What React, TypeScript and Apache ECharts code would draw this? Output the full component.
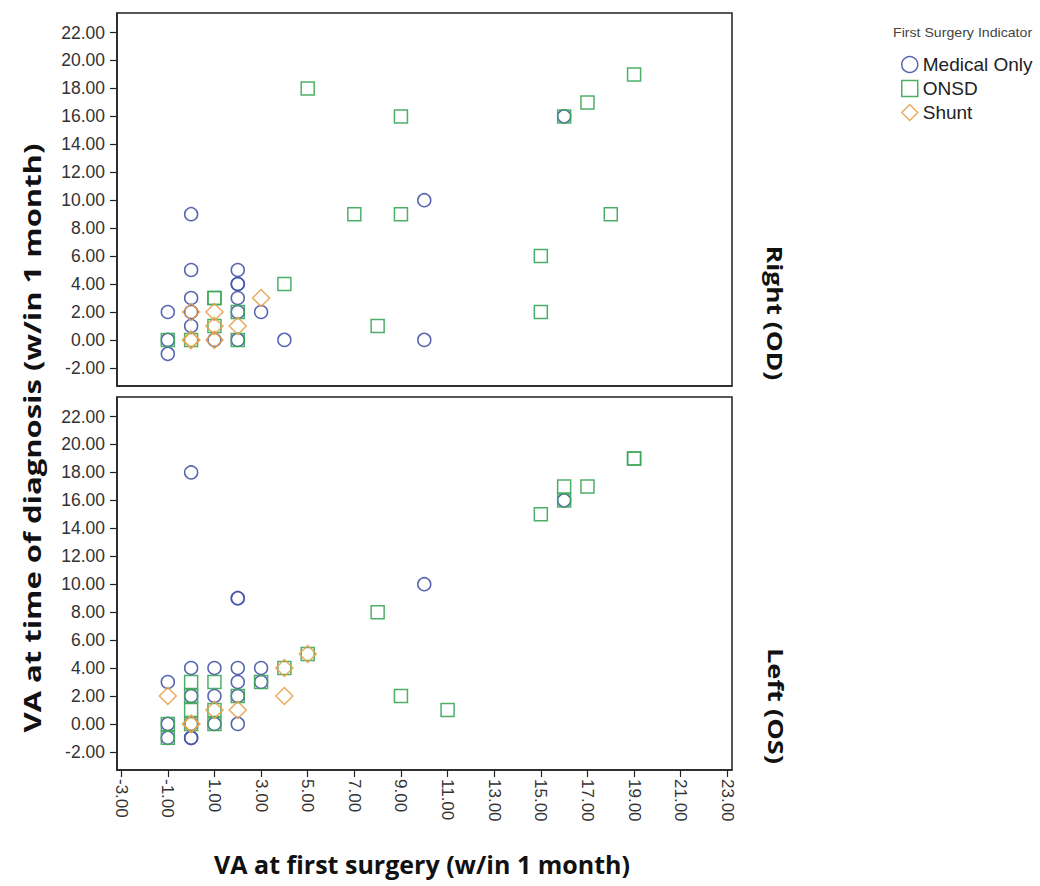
import React, { useEffect, useRef } from "react";
import * as echarts from "echarts";

// ---- Data ----
const groups = ["Medical Only", "ONSD", "Shunt"];
const xTicks = [-3, -1, 1, 3, 5, 7, 9, 11, 13, 15, 17, 19, 21, 23];
const yTicks = [-2, 0, 2, 4, 6, 8, 10, 12, 14, 16, 18, 20, 22];

// Right eye (OD): [VA at first surgery, VA at diagnosis]
const odMedical = [
  [0, 9], [0, 5], [0, 3], [0, 2], [0, 1], [-1, 2], [-1, 0], [-1, -1],
  [2, 5], [2, 4], [2, 4], [2, 3], [2, 2], [2, 0], [3, 2], [4, 0],
  [1, 0], [10, 10], [10, 0], [16, 16],
];
const odOnsd = [
  [-1, 0], [0, 0], [1, 3], [1, 3], [1, 1], [2, 2], [2, 0], [4, 4],
  [5, 18], [7, 9], [8, 1], [9, 16], [9, 9], [15, 6], [15, 2], [16, 16],
  [17, 17], [18, 9], [19, 19],
];
const odShunt = [
  [0, 2], [0, 0], [0, 0], [1, 2], [1, 1], [1, 0], [2, 1], [3, 3],
];

// Left eye (OS)
const osMedical = [
  [0, 18], [2, 9], [2, 9], [0, 4], [1, 4], [2, 4], [3, 4], [-1, 3],
  [-1, 0], [-1, -1], [0, 2], [0, 0], [0, -1], [0, -1], [1, 2], [1, 0],
  [2, 3], [2, 2], [2, 0], [3, 3], [10, 10], [16, 16],
];
const osOnsd = [
  [-1, 0], [-1, -1], [0, 3], [0, 2], [0, 1], [0, 0], [1, 3], [1, 1],
  [1, 0], [2, 2], [3, 3], [4, 4], [5, 5], [8, 8], [9, 2], [11, 1],
  [15, 15], [16, 17], [16, 16], [17, 17], [19, 19], [19, 19],
];
const osShunt = [
  [-1, 2], [0, 0], [0, 0], [1, 1], [2, 1], [4, 4], [4, 2], [5, 5],
];

const colors = ["#4655a8", "#3aa657", "#e8a24c"];
const symbols = ["circle", "rect", "diamond"];
const sizes = [13, 13, 17];

const xMin = -3.18, xMax = 23.2, yMin = -3.3, yMax = 23.4;

export default function App() {
  const ref = useRef<HTMLDivElement>(null);
  useEffect(() => {
    if (!ref.current) return;
    const chart = echarts.init(ref.current, null, { renderer: "svg" });
    const labelFont = "Liberation Sans";
    const titleFont = "Open Sans";
    const axisColor = "#222";

    const mkY = (gi: number) => ({
      type: "value",
      gridIndex: gi,
      min: yMin,
      max: yMax,
      splitLine: { show: false },
      axisLine: { show: true, onZero: false, lineStyle: { color: axisColor, width: 1.5 } },
      axisTick: { show: true, customValues: yTicks, length: 7, lineStyle: { color: axisColor, width: 1.2 } },
      axisLabel: {
        customValues: yTicks,
        formatter: (v: number) => v.toFixed(2),
        fontSize: 17.5,
        fontFamily: labelFont,
        color: "#333",
        margin: 12,
      },
    });
    const mkX = (gi: number, showLabels: boolean) => ({
      type: "value",
      gridIndex: gi,
      min: xMin,
      max: xMax,
      splitLine: { show: false },
      axisLine: { show: true, onZero: false, lineStyle: { color: axisColor, width: 1.5 } },
      axisTick: { show: showLabels, customValues: xTicks, length: 7, lineStyle: { color: axisColor, width: 1.2 } },
      axisLabel: {
        show: showLabels,
        customValues: xTicks,
        rotate: -90,
        formatter: (v: number) => v.toFixed(2),
        fontSize: 17,
        fontFamily: labelFont,
        color: "#333",
        margin: 9,
      },
    });

    const panels = [
      [odMedical, odOnsd, odShunt],
      [osMedical, osOnsd, osShunt],
    ];
    const series: any[] = [];
    panels.forEach((p, gi) => {
      p.forEach((data, k) => {
        series.push({
          type: "scatter",
          name: groups[k],
          xAxisIndex: gi,
          yAxisIndex: gi,
          data,
          symbol: symbols[k],
          symbolSize: sizes[k],
          itemStyle: {
            color: "rgba(255,255,255,0)",
            borderColor: colors[k],
            borderWidth: 1.5,
            opacity: 0.9,
          },
          emphasis: { disabled: true },
        });
      });
    });

    chart.setOption({
      animation: false,
      backgroundColor: "#fff",
      grid: [
        { left: 117, top: 13, width: 615, height: 373, show: true, borderColor: axisColor, borderWidth: 1.5 },
        { left: 117, top: 397, width: 615, height: 373, show: true, borderColor: axisColor, borderWidth: 1.5 },
      ],
      xAxis: [mkX(0, false), mkX(1, true)],
      yAxis: [mkY(0), mkY(1)],
      legend: {
        data: groups.map((g, k) => ({
          name: g,
          icon: symbols[k],
          itemStyle: { color: "rgba(255,255,255,0)", borderColor: colors[k], borderWidth: 1.5 },
        })),
        orient: "vertical",
        left: 901,
        top: 55,
        padding: 0,
        itemWidth: 16,
        itemHeight: 16,
        itemGap: 5,
        itemTextGap: 5,
        textStyle: { fontSize: 19, fontFamily: labelFont, color: "#222" },
        selectedMode: false,
      },
      graphic: [
        {
          type: "text",
          x: 893,
          y: 33,
          scaleX: 1.18,
          style: { text: "First Surgery Indicator", fontSize: 12, fontFamily: labelFont, fill: "#444", align: "left", verticalAlign: "middle" },
        },
        {
          type: "text",
          x: 31,
          y: 438,
          rotation: Math.PI / 2,
          scaleX: 1.29,
          style: { text: "VA at time of diagnosis (w/in 1 month)", fontSize: 24, fontWeight: "bold", fontFamily: titleFont, fill: "#111", align: "center", verticalAlign: "middle" },
        },
        {
          type: "text",
          x: 422,
          y: 864,
          style: { text: "VA at first surgery (w/in 1 month)", fontSize: 25, fontWeight: "bold", fontFamily: titleFont, fill: "#111", align: "center", verticalAlign: "middle" },
        },
        {
          type: "text",
          x: 776,
          y: 313,
          rotation: -Math.PI / 2,
          scaleX: 1.2,
          style: { text: "Right (OD)", fontSize: 22, fontWeight: "bold", fontFamily: titleFont, fill: "#111", align: "center", verticalAlign: "middle" },
        },
        {
          type: "text",
          x: 776,
          y: 706,
          rotation: -Math.PI / 2,
          scaleX: 1.24,
          style: { text: "Left (OS)", fontSize: 22, fontWeight: "bold", fontFamily: titleFont, fill: "#111", align: "center", verticalAlign: "middle" },
        },
      ],
      series,
    });
    return () => chart.dispose();
  }, []);
  return <div ref={ref} style={{ position: "fixed", left: 0, top: 0, width: 1040, height: 886 }} />;
}
